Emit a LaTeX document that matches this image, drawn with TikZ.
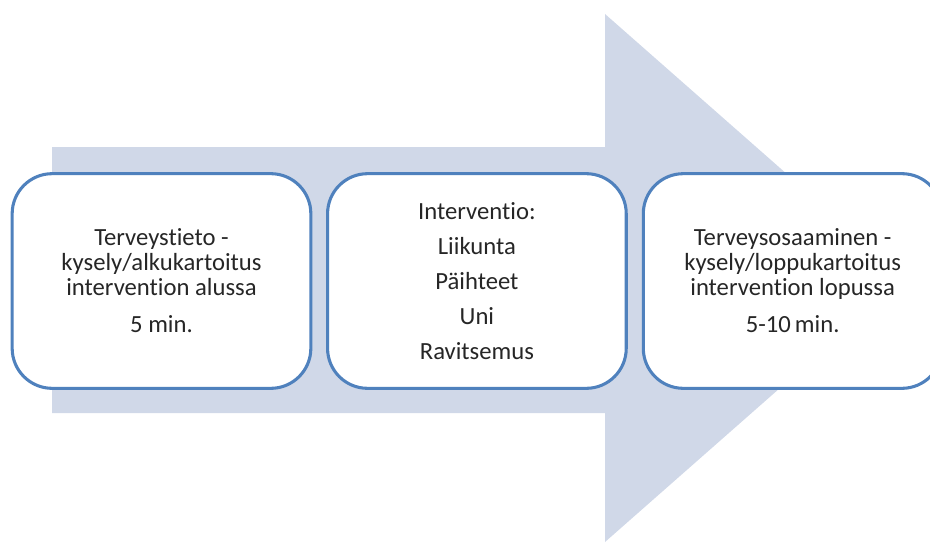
\documentclass[tikz,border=0pt]{standalone}
\usepackage{fontspec}
\setmainfont{Carlito}[RawFeature=-liga]
\usepackage{xcolor}
\usepackage{tikz}
\usetikzlibrary{positioning}
\definecolor{arrowfill}{HTML}{D0D8E8}
\definecolor{boxline}{HTML}{4F81BD}
\tikzset{
	phase/.style={draw=boxline, line width=2.3pt, fill=white, rounded corners=30pt,
		minimum width=224pt, minimum height=161pt, align=center,
		font=\fontsize{18.5}{18.75}\selectfont, text=black!85}
}

\begin{document}
\begin{tikzpicture}[x=0.75pt,y=-0.75pt]
	\useasboundingbox (0,0) rectangle (930,542);
	\clip (0,0) rectangle (930,542);
	% big arrow behind the boxes
	\fill[arrowfill] (52,147) -- (605,147) -- (605,14) -- (905,278) -- (605,542) -- (605,413) -- (52,413) -- cycle;
	\node[phase] (alku) at (161.5,281) {Terveystieto -\\kysely/alkukartoitus\\intervention alussa\\[9pt]5 min.};
	\node[phase, right=10.25pt of alku] (interventio) {Interventio:\\[7.5pt]Liikunta\\[7.5pt]P\"aihteet\\[7.5pt]Uni\\[7.5pt]Ravitsemus};
	\node[phase, right=10.5pt of interventio] (loppu) {Terveysosaaminen -\\kysely/loppukartoitus\\intervention lopussa\\[9pt]5-10\,min.};
\end{tikzpicture}
\end{document}
